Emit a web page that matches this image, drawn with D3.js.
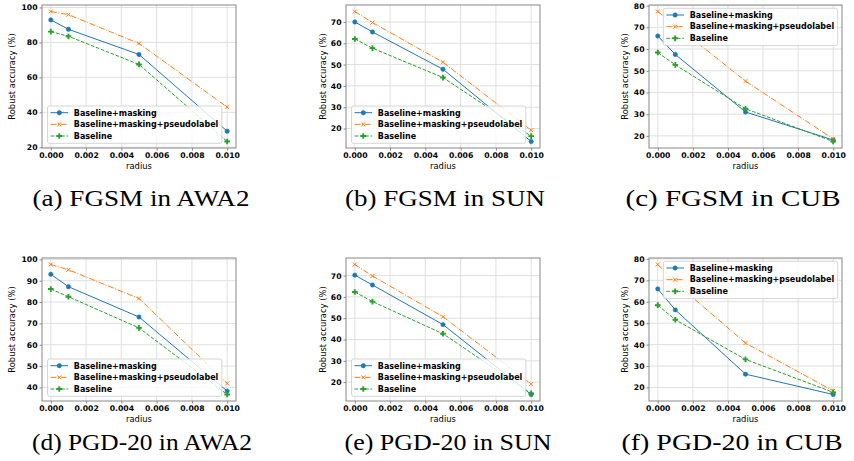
<!DOCTYPE html>
<html>
<head>
<meta charset="utf-8">
<script src="https://cdn.jsdelivr.net/npm/d3@7"></script>
<style>
body { margin: 0; background: #fff; }
svg { display: block; font-family: "DejaVu Sans", sans-serif; }
</style>
</head>
<body>
<svg id="canvas" width="854" height="461"></svg>
<script>
// radius values on the x axis
var radius = [0, 0.001, 0.005, 0.010];
var xTicks = [0, 0.002, 0.004, 0.006, 0.008, 0.010];
var seriesNames = ["Baseline+masking", "Baseline+masking+pseudolabel", "Baseline"];

// FGSM
var awa2FgsmMasking = [92.9, 87.5, 73.1, 29.2];
var awa2FgsmPseudo  = [97.7, 95.9, 79.4, 43.0];
var awa2FgsmBase    = [86.2, 83.5, 67.4, 23.3];
var sunFgsmMasking  = [70.0, 65.3, 47.8, 13.9];
var sunFgsmPseudo   = [74.9, 69.7, 51.1, 19.2];
var sunFgsmBase     = [62.0, 57.7, 43.9, 16.4];
var cubFgsmMasking  = [66.0, 57.5, 31.0, 18.1];
var cubFgsmPseudo   = [77.3, 71.0, 45.2, 18.6];
var cubFgsmBase     = [58.4, 52.7, 32.5, 17.4];

// PGD-20
var awa2PgdMasking = [93.0, 87.2, 73.0, 38.3];
var awa2PgdPseudo  = [97.6, 95.1, 81.7, 41.9];
var awa2PgdBase    = [86.1, 82.5, 67.9, 36.7];
var sunPgdMasking  = [70.2, 65.6, 47.0, 14.2];
var sunPgdPseudo   = [75.2, 69.8, 50.7, 19.1];
var sunPgdBase     = [62.3, 57.8, 42.7, 14.7];
var cubPgdMasking  = [66.0, 56.2, 26.2, 16.7];
var cubPgdPseudo   = [77.4, 69.0, 40.7, 18.4];
var cubPgdBase     = [58.4, 51.6, 33.1, 17.7];

// y tick labels
var awa2FgsmTicks = [20, 40, 60, 80, 100];
var sunTicks      = [20, 30, 40, 50, 60, 70];
var cubTicks      = [20, 30, 40, 50, 60, 70, 80];
var awa2PgdTicks  = [40, 50, 60, 70, 80, 90, 100];

var captions = ["(a) FGSM in AWA2", "(b) FGSM in SUN", "(c) FGSM in CUB",
                "(d) PGD-20 in AWA2", "(e) PGD-20 in SUN", "(f) PGD-20 in CUB"];

var colors = ["#1f77b4", "#ff7f0e", "#2ca02c"];
var dashes = [null, "6,1.6,1,1.6", "3.7,1.6"];
var markers = ["circle", "x", "plus"];

var plotH = 143;
var panels = [
  {series: [awa2FgsmMasking, awa2FgsmPseudo, awa2FgsmBase], yTicks: awa2FgsmTicks, left: 42, right: 236, top: 5, legend: "ll", ylab: 27.5, capX: 141, capY: 206, capW: 217},
  {series: [sunFgsmMasking, sunFgsmPseudo, sunFgsmBase], yTicks: sunTicks, left: 346, right: 540, top: 5, legend: "ll", ylab: 20, capX: 445, capY: 206, capW: 200},
  {series: [cubFgsmMasking, cubFgsmPseudo, cubFgsmBase], yTicks: cubTicks, left: 649, right: 842, top: 5, legend: "ur", ylab: 21, capX: 733, capY: 206, capW: 215},
  {series: [awa2PgdMasking, awa2PgdPseudo, awa2PgdBase], yTicks: awa2PgdTicks, left: 42, right: 236, top: 258, legend: "ll", ylab: 27.5, capX: 142, capY: 450, capW: 220},
  {series: [sunPgdMasking, sunPgdPseudo, sunPgdBase], yTicks: sunTicks, left: 346, right: 540, top: 258, legend: "ll", ylab: 20, capX: 448, capY: 450, capW: 207},
  {series: [cubPgdMasking, cubPgdPseudo, cubPgdBase], yTicks: cubTicks, left: 649, right: 842, top: 258, legend: "ur", ylab: 21, capX: 732, capY: 450, capW: 221}
];

var svg = d3.select("#canvas");

function drawMarker(sel, kind, color) {
  if (kind == "circle") {
    sel.append("circle").attr("r", 2.2).attr("fill", color).attr("stroke", color).attr("stroke-width", 0.5);
  } else if (kind == "x") {
    sel.append("path").attr("d", "M-2,-2L2,2M-2,2L2,-2")
      .attr("stroke", color).attr("stroke-width", 1).attr("fill", "none");
  } else {
    sel.append("path").attr("d", d3.symbol(d3.symbolCross).size(18)).attr("fill", color);
  }
}

panels.forEach(function(p, pi) {
  var g = svg.append("g");
  var bottom = p.top + plotH;
  var all = d3.merge(p.series);
  var lo = d3.min(all), hi = d3.max(all), m = (hi - lo) * 0.05;

  var xScale = d3.scaleLinear().domain([-0.0005, 0.0105]).range([p.left, p.right]);
  var yScale = d3.scaleLinear().domain([lo - m, hi + m]).range([bottom, p.top]);

  // grid
  g.selectAll(".gx").data(xTicks).enter().append("line")
    .attr("x1", d => xScale(d)).attr("x2", d => xScale(d))
    .attr("y1", p.top).attr("y2", bottom)
    .attr("stroke", "#dcdcdc").attr("stroke-width", 0.9);
  g.selectAll(".gy").data(p.yTicks).enter().append("line")
    .attr("x1", p.left).attr("x2", p.right)
    .attr("y1", d => yScale(d)).attr("y2", d => yScale(d))
    .attr("stroke", "#dcdcdc").attr("stroke-width", 0.9);

  // axes
  var xAxis = d3.axisBottom(xScale).tickValues(xTicks).tickFormat(d3.format(".3f")).tickSize(2.5).tickPadding(2);
  var yAxis = d3.axisLeft(yScale).tickValues(p.yTicks).tickSize(2.5).tickPadding(2);
  var gx = g.append("g").attr("transform", "translate(0," + bottom + ")").call(xAxis);
  var gy = g.append("g").attr("transform", "translate(" + p.left + ",0)").call(yAxis);
  [gx, gy].forEach(function(a) {
    a.select(".domain").remove();
    a.selectAll("line").attr("stroke", "#888");
    a.selectAll("text").attr("font-family", "DejaVu Sans").attr("font-weight", "bold")
      .attr("font-size", 7.7).attr("fill", "#000");
  });

  // series
  var line = d3.line().x((d, i) => xScale(radius[i])).y(d => yScale(d));
  p.series.forEach(function(vals, si) {
    g.append("path").attr("d", line(vals)).attr("fill", "none")
      .attr("stroke", colors[si]).attr("stroke-width", 1)
      .attr("stroke-dasharray", dashes[si]);
    g.selectAll(".m" + si).data(vals).enter().append("g")
      .attr("transform", (d, i) => "translate(" + xScale(radius[i]) + "," + yScale(d) + ")")
      .each(function() { drawMarker(d3.select(this), markers[si], colors[si]); });
  });

  // frame
  g.append("rect").attr("x", p.left).attr("y", p.top)
    .attr("width", p.right - p.left).attr("height", plotH)
    .attr("fill", "none").attr("stroke", "#888").attr("stroke-width", 1);

  // axis labels
  g.append("text").attr("x", (p.left + p.right) / 2).attr("y", bottom + 21)
    .attr("text-anchor", "middle").attr("font-size", 8.4).text("radius");
  g.append("text")
    .attr("transform", "translate(" + (p.left - p.ylab) + "," + (p.top + plotH / 2) + ") rotate(-90)")
    .attr("text-anchor", "middle").attr("font-size", 8.4).text("Robust accuracy (%)");

  // legend
  var lg = g.append("g");
  var box = lg.append("rect").attr("rx", 2).attr("fill", "#fff").attr("fill-opacity", 0.8)
    .attr("stroke", "#ccc").attr("stroke-width", 0.8);
  var maxW = 0;
  seriesNames.forEach(function(name, si) {
    var ry = 6.7 + si * 11.65;
    lg.append("line").attr("x1", 3).attr("x2", 20.6).attr("y1", ry).attr("y2", ry)
      .attr("stroke", colors[si]).attr("stroke-width", 1).attr("stroke-dasharray", dashes[si]);
    drawMarker(lg.append("g").attr("transform", "translate(11.8," + ry + ")"), markers[si], colors[si]);
    var t = lg.append("text").attr("x", 26.3).attr("y", ry).attr("dy", "0.35em")
      .attr("font-weight", "bold").attr("font-size", 8).text(name);
    maxW = Math.max(maxW, t.node().getComputedTextLength());
  });
  var bw = 26.3 + maxW + 3.5, bh = 37.3;
  box.attr("width", bw).attr("height", bh);
  var bx = p.legend == "ll" ? p.left + 5.5 : p.right - 4.3 - bw;
  var by = p.legend == "ll" ? bottom - 4.7 - bh : p.top + 3.3;
  lg.attr("transform", "translate(" + bx + "," + by + ")");

  // caption
  svg.append("text").attr("x", p.capX).attr("y", p.capY)
    .attr("text-anchor", "middle").attr("font-family", "Liberation Serif, serif")
    .attr("font-size", 24).attr("textLength", p.capW).attr("lengthAdjust", "spacingAndGlyphs")
    .text(captions[pi]);
});
</script>
</body>
</html>
